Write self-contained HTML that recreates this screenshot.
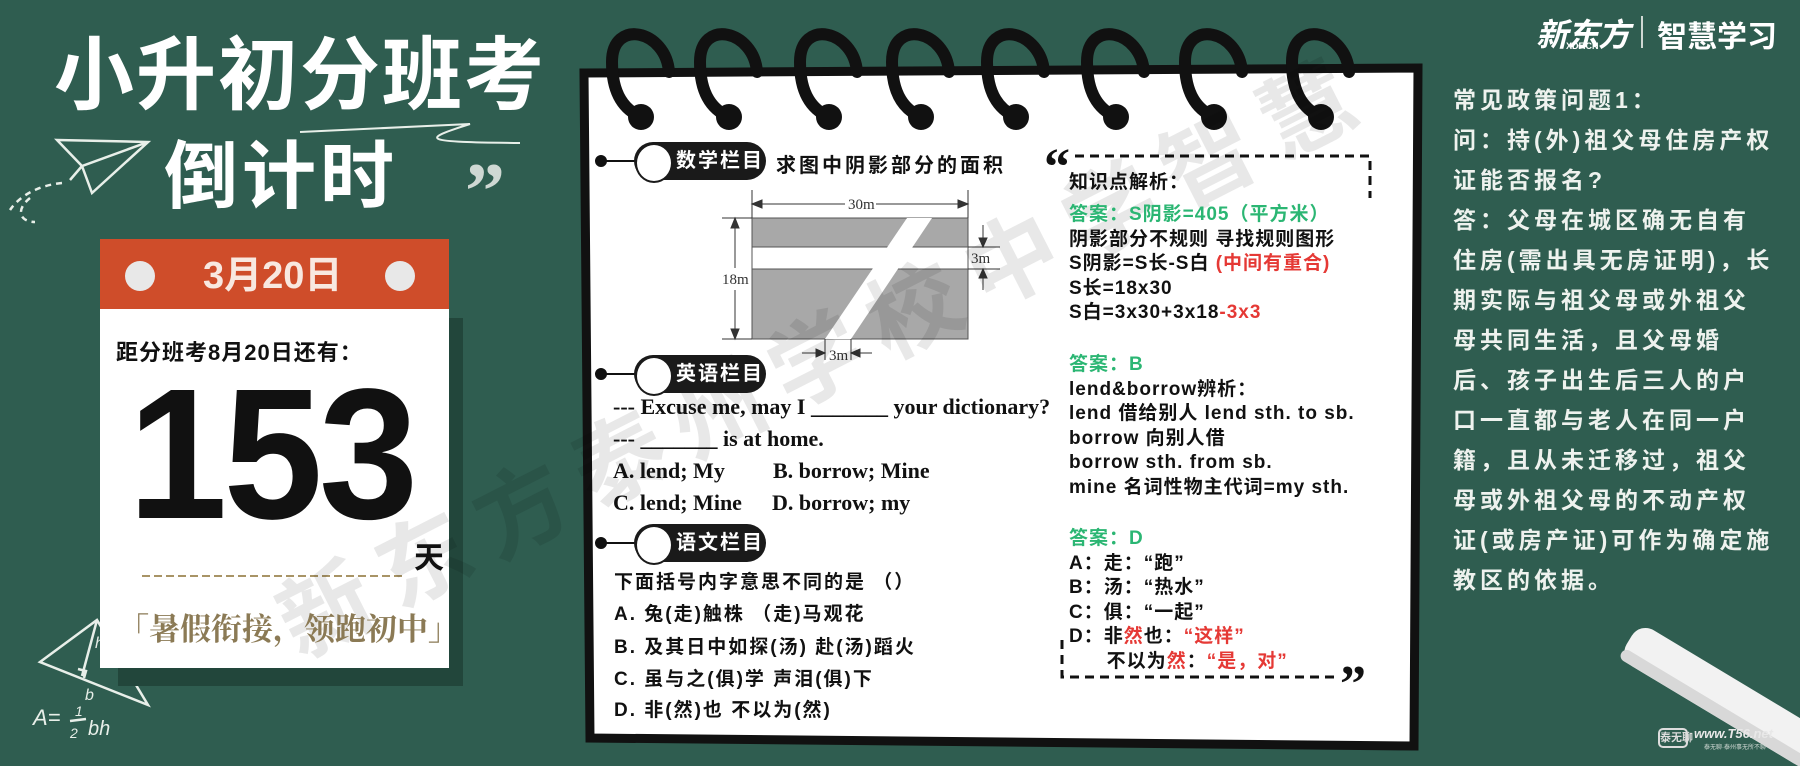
<!DOCTYPE html>
<html><head><meta charset="utf-8">
<style>
*{margin:0;padding:0;box-sizing:border-box}
body{width:1800px;height:766px;overflow:hidden;background:#2f5d50;position:relative;font-family:"Liberation Sans","Noto Sans CJK SC",sans-serif}
.a{position:absolute;white-space:nowrap}
.w{color:#fff}
.b{font-weight:bold}
.pill{position:absolute;height:38px;width:132px;background:#1a1a1a;border-radius:19px;color:#fff;font-weight:bold;font-size:20px;letter-spacing:2px;line-height:38px;padding-left:42px}
.pill:before{content:"";position:absolute;left:1px;top:1px;width:34px;height:36px;border-radius:50%;background:#fff;border:2px solid #1a1a1a}
.ck{font-family:"Liberation Sans","Noto Sans CJK SC",sans-serif;font-weight:bold;color:#111;font-size:19px;letter-spacing:2px}
.en{font-family:"Liberation Serif","Noto Serif CJK SC",serif;font-weight:bold;font-size:22px;color:#111}
.r{font-size:19px;font-weight:bold;color:#111;line-height:24.5px;letter-spacing:1px}
.g{color:#2bb673}.red{color:#e53935}
.rt{font-size:23px;font-weight:bold;color:#eef2ee;letter-spacing:4px;line-height:40px}
</style></head><body>
<svg class="a" style="left:0;top:0" width="1800" height="766">
 <g fill="none" stroke="#e8efe9" stroke-width="2.5">
  <path d="M57,140 L148,142 L92,193 L82,166 Z M57,140 L82,166 L148,142 M82,166 L70,180"/>
  <path d="M62,183 C40,185 20,195 10,210 M30,198 C15,210 20,222 35,222" stroke-dasharray="6 5"/>
  <path d="M300,132 C380,128 440,125 470,124 C420,140 420,142 520,143" stroke-width="2"/>
  <path d="M40,662 L97,620 L148,705 Z M97,620 L82,676 M78,669 L86,671 L84,678"/>
  <text x="85" y="700" fill="#e8efe9" stroke="none" font-size="16" font-style="italic">b</text>
  <text x="95" y="648" fill="#e8efe9" stroke="none" font-size="16" font-style="italic">h</text>
  <text x="33" y="725" fill="#e8efe9" stroke="none" font-size="22" font-style="italic">A=</text>
  <text x="75" y="716" fill="#e8efe9" stroke="none" font-size="14" font-style="italic">1</text>
  <path d="M70,721 L86,719"/>
  <text x="70" y="738" fill="#e8efe9" stroke="none" font-size="14" font-style="italic">2</text>
  <text x="88" y="735" fill="#e8efe9" stroke="none" font-size="20" font-style="italic">bh</text>
 </g>
 <rect x="118" y="318" width="345" height="368" fill="#22463b"/>
 <rect x="100" y="239" width="349" height="70" fill="#cf4d2a"/>
 <rect x="100" y="309" width="349" height="359" fill="#fff"/>
 <circle cx="140" cy="276" r="15" fill="#e8e8e8"/><circle cx="400" cy="276" r="15" fill="#e8e8e8"/>
 <line x1="142" y1="576" x2="406" y2="576" stroke="#a89466" stroke-width="2" stroke-dasharray="8 4"/>
 <text x="465" y="218" fill="#cfd8d3" font-size="80" font-family="Liberation Serif" font-weight="bold">”</text>
 <g transform="translate(1640,622) rotate(31)"><rect x="0" y="0" width="220" height="42" rx="16" fill="#f2f2f2"/><rect x="0" y="30" width="220" height="12" fill="#d8d8d8" rx="6"/></g>
 <polygon points="584,73 1418,68 1414,746 590,738" fill="#fff" stroke="#111" stroke-width="9"/>
 <g fill="none" stroke="#111" stroke-width="12" stroke-linecap="round">
  <path d="M669,72 C666,30 612,18 612,62 C612,95 625,110 641,117"/>
  <path d="M757,72 C754,30 700,18 700,62 C700,95 713,110 729,117"/>
  <path d="M857,72 C854,30 800,18 800,62 C800,95 813,110 829,117"/>
  <path d="M949,72 C946,30 892,18 892,62 C892,95 905,110 921,117"/>
  <path d="M1044,72 C1041,30 987,18 987,62 C987,95 1000,110 1016,117"/>
  <path d="M1144,72 C1141,30 1087,18 1087,62 C1087,95 1100,110 1116,117"/>
  <path d="M1242,72 C1239,30 1185,18 1185,62 C1185,95 1198,110 1214,117"/>
  <path d="M1349,72 C1346,30 1292,18 1292,62 C1292,95 1305,110 1321,117"/>
 </g>
 <g fill="#111"><circle cx="641" cy="117" r="13"/><circle cx="729" cy="117" r="13"/><circle cx="829" cy="117" r="13"/><circle cx="921" cy="117" r="13"/><circle cx="1016" cy="117" r="13"/><circle cx="1116" cy="117" r="13"/><circle cx="1214" cy="117" r="13"/><circle cx="1321" cy="117" r="13"/></g>
 <g fill="#111" stroke="#111" stroke-width="2">
  <circle cx="601" cy="161" r="5"/><line x1="601" y1="161" x2="636" y2="161"/>
  <circle cx="601" cy="374" r="5"/><line x1="601" y1="374" x2="636" y2="374"/>
  <circle cx="601" cy="543" r="5"/><line x1="601" y1="543" x2="636" y2="543"/>
 </g>
 <rect x="752" y="218" width="216" height="121" fill="#a8a8a8" stroke="#555" stroke-width="1"/>
 <rect x="752.5" y="247" width="215" height="22" fill="#fff"/>
 <line x1="752" y1="247" x2="968" y2="247" stroke="#555"/><line x1="752" y1="269" x2="968" y2="269" stroke="#555"/>
 <polygon points="907,218 932,218 851,339 825,339" fill="#fff"/>
 <g stroke="#333" stroke-width="1" fill="#333">
  <line x1="752" y1="190" x2="752" y2="218"/><line x1="968" y1="190" x2="968" y2="218"/>
  <line x1="755" y1="204" x2="845" y2="204"/><line x1="876" y1="204" x2="965" y2="204"/>
  <polygon points="752,204 762,200 762,208"/><polygon points="968,204 958,200 958,208"/>
  <line x1="722" y1="218" x2="752" y2="218"/><line x1="722" y1="339" x2="752" y2="339"/>
  <line x1="735" y1="221" x2="735" y2="268"/><line x1="735" y1="290" x2="735" y2="336"/>
  <polygon points="735,218 731,228 739,228"/><polygon points="735,339 731,329 739,329"/>
  <line x1="968" y1="247" x2="1000" y2="247"/><line x1="968" y1="269" x2="1000" y2="269"/>
  <line x1="983" y1="225" x2="983" y2="246"/><polygon points="983,247 979,238 987,238"/>
  <line x1="983" y1="270" x2="983" y2="290"/><polygon points="983,269 979,278 987,278"/>
  <line x1="825" y1="339" x2="825" y2="360"/><line x1="851" y1="339" x2="851" y2="360"/>
  <line x1="802" y1="353" x2="824" y2="353"/><polygon points="825,353 816,349 816,357"/>
  <line x1="852" y1="353" x2="872" y2="353"/><polygon points="851,353 860,349 860,357"/>
 </g>
 <g font-family="Liberation Serif" font-size="15" fill="#333">
  <text x="848" y="209">30m</text><text x="722" y="284">18m</text><text x="971" y="263">3m</text><text x="829" y="360">3m</text>
 </g>
 <g stroke="#111" stroke-width="3" fill="none" stroke-dasharray="9 6">
  <path d="M1075,156 L1370,156 L1370,198"/>
  <path d="M1062,640 L1062,677 L1336,677"/>
 </g>
 <text x="1044" y="184" font-size="52" font-weight="bold" fill="#111" font-family="Liberation Serif">“</text>
 <text x="1340" y="701" font-size="52" font-weight="bold" fill="#111" font-family="Liberation Serif">”</text>
 <text x="300" y="660" transform="rotate(-27 300 660)" font-size="92" font-weight="bold" fill="rgba(0,0,0,0.09)" font-family="Noto Sans CJK SC" letter-spacing="18">新东方泰州学校中学智慧</text>
</svg>

<div class="a w b" style="left:54px;top:28px;font-size:80px;letter-spacing:2px;line-height:96px">小升初分班考</div>
<div class="a w b" style="left:164px;top:132px;font-size:74px;letter-spacing:4px;line-height:90px">倒计时</div>

<div class="a w b" style="left:203px;top:254px;font-size:38px;line-height:44px;color:#f8e8e0">3月20日</div>
<div class="a b" style="left:116px;top:335px;font-size:22px;letter-spacing:1px;color:#111">距分班考8月20日还有：</div>
<div class="a b" style="left:128px;top:362px;font-size:186px;line-height:186px;letter-spacing:-4px;color:#111;font-family:'Liberation Sans',sans-serif;transform:scaleX(0.96);transform-origin:left">153</div>
<div class="a b" style="left:414px;top:533px;font-size:30px;color:#111">天</div>
<div class="a" style="left:118px;top:604px;font-size:31px;color:#8b7a55;font-family:'Liberation Serif','Noto Serif CJK SC',serif;font-weight:bold">「暑假衔接，领跑初中」</div>

<div class="pill" style="left:634px;top:142px">数学栏目</div>
<div class="a ck" style="left:776px;top:149px;font-size:20px;letter-spacing:3px">求图中阴影部分的面积</div>

<div class="pill" style="left:634px;top:355px">英语栏目</div>
<div class="a en" style="left:613px;top:394px">--- Excuse me, may I _______ your dictionary?</div>
<div class="a en" style="left:613px;top:426px">--- _______ is at home.</div>
<div class="a en" style="left:613px;top:458px">A. lend; My</div><div class="a en" style="left:773px;top:458px">B. borrow; Mine</div>
<div class="a en" style="left:613px;top:490px">C. lend; Mine</div><div class="a en" style="left:772px;top:490px">D. borrow; my</div>

<div class="pill" style="left:634px;top:524px">语文栏目</div>
<div class="a ck" style="left:614px;top:567px">下面括号内字意思不同的是 （）</div>
<div class="a ck" style="left:614px;top:599px">A. 兔(走)触株 （走)马观花</div>
<div class="a ck" style="left:614px;top:632px">B. 及其日中如探(汤) 赴(汤)蹈火</div>
<div class="a ck" style="left:614px;top:664px">C. 虽与之(俱)学 声泪(俱)下</div>
<div class="a ck" style="left:614px;top:695px">D. 非(然)也 不以为(然)</div>

<div class="a r" style="left:1069px;top:171px">知识点解析：</div>
<div class="a r" style="left:1069px;top:203px"><span class="g">答案：S阴影=405（平方米）</span><br>阴影部分不规则 寻找规则图形<br>S阴影=S长-S白 <span class="red">(中间有重合)</span><br>S长=18x30<br>S白=3x30+3x18<span class="red">-3x3</span></div>
<div class="a r" style="left:1069px;top:353px"><span class="g">答案：B</span><br>lend&amp;borrow辨析：<br>lend 借给别人 lend sth. to sb.<br>borrow 向别人借<br>borrow sth. from sb.<br>mine 名词性物主代词=my sth.</div>
<div class="a r" style="left:1069px;top:527px"><span class="g">答案：D</span><br>A：走：“跑”<br>B：汤：“热水”<br>C：俱：“一起”<br>D：非<span class="red">然</span>也：<span class="red">“这样”</span><br>&nbsp;&nbsp;&nbsp;&nbsp;&nbsp;&nbsp;不以为<span class="red">然</span>：<span class="red">“是，对”</span></div>

<div class="a rt" style="left:1453px;top:80px">常见政策问题1：<br>问：持(外)祖父母住房产权<br>证能否报名?<br>答：父母在城区确无自有<br>住房(需出具无房证明)，长<br>期实际与祖父母或外祖父<br>母共同生活，且父母婚<br>后、孩子出生后三人的户<br>口一直都与老人在同一户<br>籍，且从未迁移过，祖父<br>母或外祖父母的不动产权<br>证(或房产证)可作为确定施<br>教区的依据。</div>

<div class="a w b" style="left:1536px;top:10px;font-size:32px;font-style:italic;letter-spacing:-1px">新东方</div>
<div class="a w b" style="left:1566px;top:41px;font-size:9px">XDF.CN</div>
<div class="a" style="left:1641px;top:16px;width:2px;height:32px;background:#cfd8d3"></div>
<div class="a w b" style="left:1657px;top:12px;font-size:30px">智慧学习</div>

<div class="a" style="left:1658px;top:728px;width:30px;height:20px;border:2px solid #ddd;border-radius:5px;color:#ddd;font-size:11px;line-height:16px;text-align:center;font-weight:bold">泰无聊</div>
<div class="a b" style="left:1694px;top:726px;font-size:13px;font-style:italic;color:#e8e8e8">www.T56.net</div>
<div class="a" style="left:1704px;top:742px;font-size:6px;color:#cfd8d3">泰无聊·泰州事无所不聊</div>
</body></html>
